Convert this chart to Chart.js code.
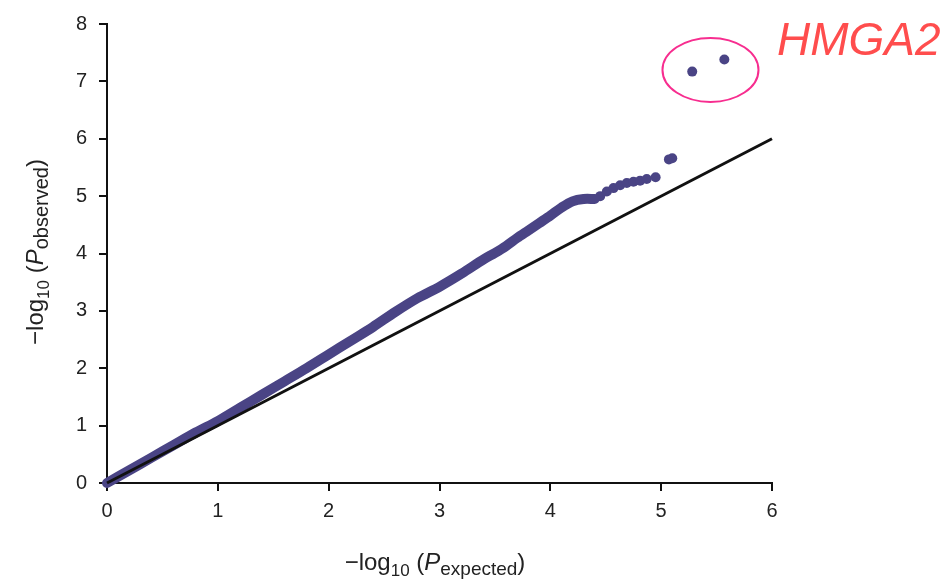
<!DOCTYPE html>
<html>
<head>
<meta charset="utf-8">
<script src="https://cdn.jsdelivr.net/npm/chart.js@4/dist/chart.umd.min.js"></script>
<style>
  html, body { margin: 0; padding: 0; background: #ffffff; }
  #wrap { width: 950px; height: 582px; }
</style>
</head>
<body>
<div id="wrap"><canvas id="c" width="950" height="582"></canvas></div>
<script>
// ---- data ----
const expectedDense = [0.0, 0.2, 0.4, 0.6, 0.8, 1.0, 1.2, 1.4, 1.6, 1.8, 2.0, 2.2, 2.4, 2.6, 2.8, 3.0, 3.2, 3.4, 3.5, 3.6, 3.7, 3.8, 3.9, 4.0, 4.1, 4.2, 4.3, 4.4];
const observedDense = [0.00, 0.22, 0.44, 0.66, 0.88, 1.08, 1.31, 1.54, 1.77, 2.00, 2.24, 2.48, 2.72, 2.98, 3.22, 3.42, 3.65, 3.90, 4.01, 4.13, 4.27, 4.40, 4.53, 4.66, 4.80, 4.91, 4.95, 4.95];
const expectedTail = [4.45, 4.51, 4.57, 4.63, 4.69, 4.75, 4.81, 4.87, 4.95, 5.07, 5.10, 5.28, 5.57];
const observedTail = [5.00, 5.08, 5.14, 5.19, 5.23, 5.25, 5.27, 5.30, 5.33, 5.64, 5.66, 7.17, 7.38];
const identityLine = [0, 6];
const xTicks = ['0', '1', '2', '3', '4', '5', '6'];
const yTicks = ['0', '1', '2', '3', '4', '5', '6', '7', '8'];
const annotationLabel = 'HMGA2';
const annotationCenter = [5.445, 7.2];

const PURPLE = '#4a4485';
const FONT = '"Liberation Sans", Arial, Helvetica, sans-serif';

const densePts = expectedDense.map((x, i) => ({ x: x, y: observedDense[i] }));
const tailPts = expectedTail.map((x, i) => ({ x: x, y: observedTail[i] }));
const idPts = identityLine.map(v => ({ x: v, y: v }));

function drawRich(ctx, parts, cx, baseline) {
  let total = 0;
  parts.forEach(p => { ctx.font = p.font; p.w = ctx.measureText(p.t).width; total += p.w; });
  let x = cx - total / 2;
  ctx.textBaseline = 'alphabetic';
  ctx.textAlign = 'left';
  parts.forEach(p => {
    ctx.font = p.font;
    ctx.fillText(p.t, x, baseline + (p.dy || 0));
    x += p.w;
  });
}

const extras = {
  id: 'extras',
  afterDraw(chart) {
    const ctx = chart.ctx;
    const xs = chart.scales.x, ys = chart.scales.y;
    ctx.save();
    ctx.fillStyle = '#222';
    // x axis title
    drawRich(ctx, [
      { t: '\u2212log', font: '24px ' + FONT },
      { t: '10', font: '17px ' + FONT, dy: 6 },
      { t: ' (', font: '24px ' + FONT },
      { t: 'P', font: 'italic 24px ' + FONT },
      { t: 'expected', font: '19px ' + FONT, dy: 5 },
      { t: ')', font: '24px ' + FONT }
    ], 435, 570);
    // y axis title
    ctx.save();
    ctx.translate(43, 252);
    ctx.rotate(-Math.PI / 2);
    drawRich(ctx, [
      { t: '\u2212log', font: '24px ' + FONT },
      { t: '10', font: '17px ' + FONT, dy: 6 },
      { t: ' (', font: '24px ' + FONT },
      { t: 'P', font: 'italic 24px ' + FONT },
      { t: 'observed', font: '20px ' + FONT, dy: 5 },
      { t: ')', font: '24px ' + FONT }
    ], 0, 0);
    ctx.restore();
    // ellipse annotation
    const ex = xs.getPixelForValue(annotationCenter[0]);
    const ey = ys.getPixelForValue(annotationCenter[1]);
    ctx.beginPath();
    ctx.ellipse(ex, ey, 48, 32, 0, 0, Math.PI * 2);
    ctx.strokeStyle = '#f72d8f';
    ctx.lineWidth = 2;
    ctx.stroke();
    // label
    ctx.fillStyle = '#ff4d4d';
    ctx.font = 'italic 46px ' + FONT;
    ctx.textAlign = 'left';
    ctx.textBaseline = 'alphabetic';
    ctx.fillText(annotationLabel, 777, 55);
    ctx.restore();
  }
};

const axisCommon = {
  grid: { display: true, drawOnChartArea: false, drawTicks: true, tickLength: 8, color: '#111', lineWidth: 2 },
  border: { display: true, color: '#111', width: 2 },
};

new Chart(document.getElementById('c'), {
  type: 'scatter',
  data: {
    datasets: [
      { type: 'line', data: idPts, borderColor: '#111', borderWidth: 3, pointRadius: 0, order: 0, clip: false },
      { type: 'line', data: densePts, borderColor: PURPLE, borderWidth: 10, pointRadius: 0, tension: 0.3,
        borderCapStyle: 'round', borderJoinStyle: 'round', order: 1, clip: false },
      { type: 'scatter', data: tailPts, backgroundColor: PURPLE, borderWidth: 0, pointRadius: 5, order: 2, clip: false }
    ]
  },
  options: {
    responsive: false,
    animation: false,
    layout: { padding: { top: 17, right: 178, left: 0, bottom: 0 } },
    plugins: { legend: { display: false }, tooltip: { enabled: false } },
    scales: {
      x: Object.assign({}, axisCommon, {
        type: 'linear', min: 0, max: 6,
        afterFit(s) { s.height = 99; },
        ticks: { stepSize: 1, padding: 8, color: '#222', font: { family: FONT, size: 20 },
                 callback: (v) => xTicks[v] !== undefined ? xTicks[v] : '' }
      }),
      y: Object.assign({}, axisCommon, {
        type: 'linear', min: 0, max: 8,
        afterFit(s) { s.width = 107; },
        ticks: { stepSize: 1, padding: 12, color: '#222', font: { family: FONT, size: 20 },
                 callback: (v) => yTicks[v] !== undefined ? yTicks[v] : '' }
      })
    }
  },
  plugins: [extras]
});
</script>
</body>
</html>
